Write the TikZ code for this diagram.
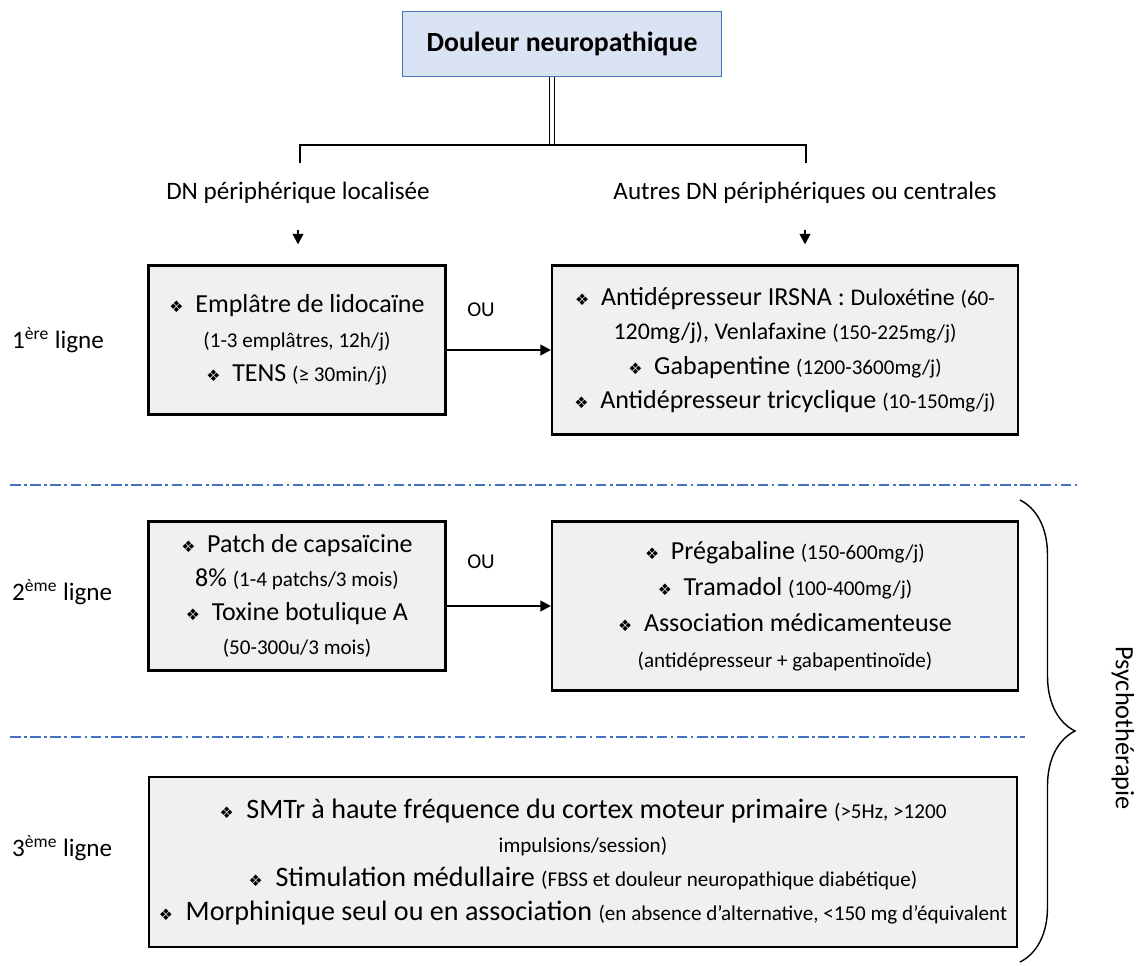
\documentclass[tikz,border=0pt]{standalone}
\usepackage{fontspec}
\setmainfont{Carlito}
\newfontfamily\dejavu{DejaVu Sans}
\usetikzlibrary{arrows.meta,decorations.pathreplacing}

\definecolor{bleutitre}{RGB}{218,227,243}
\definecolor{bleubord}{RGB}{68,114,196}
\definecolor{grisboite}{RGB}{240,240,240}
\newcommand{\puce}{{\dejavu\fontsize{9}{9}\selectfont ❖}\hspace{0.45em}}
\newcommand{\petit}[1]{{\fontsize{12}{14}\selectfont #1}}
\newcommand{\moyen}[1]{{\fontsize{13.6}{16}\selectfont #1}}

\begin{document}
\begin{tikzpicture}[
		x=0.02cm, y=-0.02cm,
		every node/.style={font=\fontsize{14.3}{19}\selectfont, align=center},
		boite/.style={draw, line width=1.2pt, fill=grisboite, inner sep=0pt, font=\fontsize{14.8}{19.5}\selectfont},
		ligne/.style={anchor=west},
		separation/.style={bleubord, line width=0.7pt, dash pattern=on 6pt off 2pt on 1.5pt off 2pt},
		fleche/.style={-{Triangle[length=6pt,width=6pt]}, line width=1.1pt}
	]
  \useasboundingbox (0,0) rectangle (1140,965);
  \node (titre) [draw=bleubord, fill=bleutitre, line width=1pt, minimum width=6.38cm, minimum height=1.3cm, font=\fontsize{15.8}{18}\selectfont\bfseries] at (562,44) {Douleur neuropathique};
  \coordinate (jonction) at (552,145);
  \coordinate (gauche) at (300,145);
  \coordinate (droite) at (806,145);
  \coordinate (gbas) at (300,163);
  \coordinate (dbas) at (806,163);
  \node (dnloc) at (298,193) {DN périphérique localisée};
  \node (dnautres) at (805,193) {Autres DN périphériques ou centrales};

  % 1ere ligne
  \node (ligne1) [ligne] at (6,340) {1\textsuperscript{ère} ligne};
  \node (b1g) [boite, minimum width=5.94cm, minimum height=2.98cm] at (297,340)
    {\puce Emplâtre de lidocaïne\\ \petit{(1-3 emplâtres, 12h/j)}\\ \puce TENS \petit{(≥ 30min/j)}};
  \node (b1d) [boite, minimum width=9.32cm, minimum height=3.38cm] at (785,350)
    {\puce Antidépresseur IRSNA : \moyen{Duloxétine} \petit{(60-}\\ \moyen{120mg/j), Venlafaxine} \petit{(150-225mg/j)}\\ \puce Gabapentine \petit{(1200-3600mg/j)}\\ \puce Antidépresseur tricyclique \petit{(10-150mg/j)}};
  \node (ou1) [font=\fontsize{12}{14}\selectfont] at (481,310) {OU};

  % 2eme ligne
  \node (ligne2) [ligne] at (6,592) {2\textsuperscript{ème} ligne};
  \node (b2g) [boite, minimum width=5.94cm, minimum height=2.98cm] at (297,596)
    {\puce Patch de capsaïcine\\ 8\% \petit{(1-4 patchs/3 mois)}\\ \puce Toxine botulique A\\ \petit{(50-300u/3 mois)}};
  \node (b2d) [boite, minimum width=9.32cm, minimum height=3.38cm, font=\fontsize{14.8}{20.5}\selectfont] at (785,606)
    {\puce Prégabaline \petit{(150-600mg/j)}\\ \puce Tramadol \petit{(100-400mg/j)}\\ \puce Association médicamenteuse\\ \petit{(antidépresseur + gabapentinoïde)}};
  \node (ou2) [font=\fontsize{12}{14}\selectfont] at (481,562) {OU};

  % 3eme ligne
  \node (ligne3) [ligne] at (6,848) {3\textsuperscript{ème} ligne};
  \node (b3) [boite, minimum width=17.38cm, minimum height=3.4cm, font=\fontsize{16}{19.5}\selectfont] at (583,862)
    {\puce SMTr à haute fréquence du cortex moteur primaire \petit{(>5Hz, >1200}\\ \petit{impulsions/session)}\\ \puce Stimulation médullaire \petit{(FBSS et douleur neuropathique diabétique)}\\ \puce Morphinique seul ou en association \petit{(en absence d’alternative, <150 mg d’équivalent}};

  \node (psy) [rotate=-90, font=\fontsize{15}{17}\selectfont] at (1123,728) {Psychothérapie};

  \draw[double, double distance=2pt, line width=0.8pt] (titre.south -| jonction) -- (jonction);
  \draw[line width=1.2pt] (gbas) -- (gauche) -- (droite) -- (dbas);
  \draw[fleche, shorten <=0.4cm, shorten >=0.4cm] (dnloc.south) -- (dnloc.south |- b1g.north);
  \draw[fleche, shorten <=0.4cm, shorten >=0.4cm] (dnautres.south) -- (dnautres.south |- b1d.north);
  \draw[fleche] (b1g.east |- b1d.west) -- (b1d.west);
  \draw[fleche] (b2g.east |- b2d.west) -- (b2d.west);

  \draw[separation] (10,485) -- (1080,485);
  \draw[separation] (10,737) -- (1025,737);
  \draw[decorate, decoration={brace, amplitude=1.1cm}, line width=0.8pt] (1020,500) -- (1020,962);
\end{tikzpicture}
\end{document}
